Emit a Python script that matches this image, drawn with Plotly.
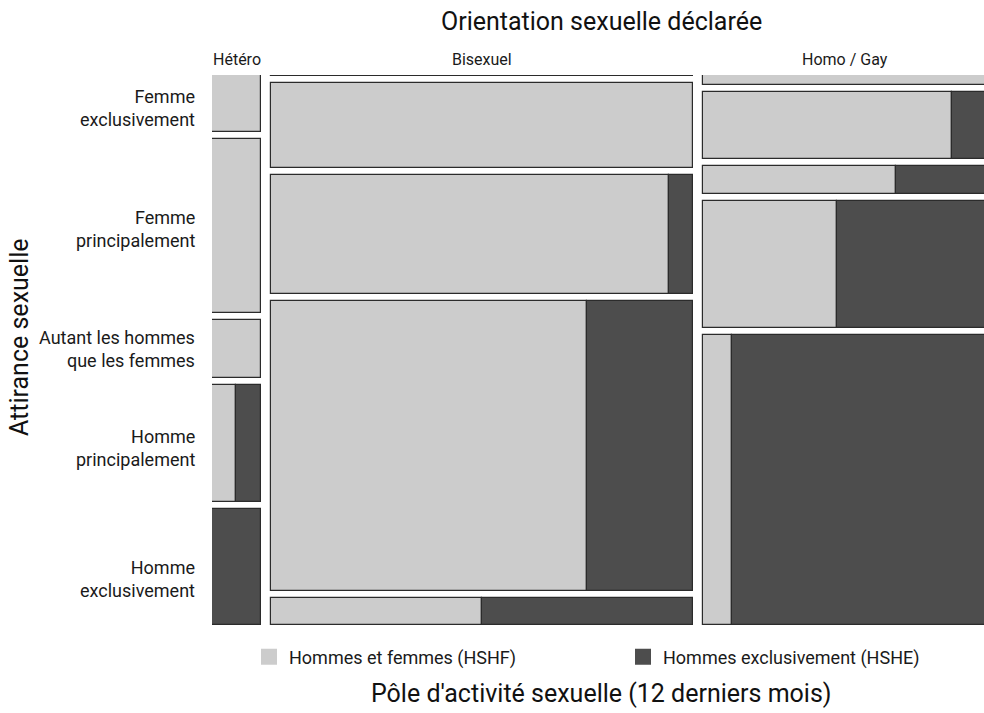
import plotly.graph_objects as go

# ---- data ----
orientations = ["Hétéro", "Bisexuel", "Homo / Gay"]
orientation_share = [6.5, 55.8, 37.7]  # % of respondents per declared orientation

attractions = ["Femme<br>exclusivement", "Femme<br>principalement",
               "Autant les hommes<br>que les femmes", "Homme<br>principalement",
               "Homme<br>exclusivement"]
# share of each attraction level within each orientation (%)
attraction_share = {
    "Hétéro":     [10.9, 33.4, 11.1, 22.3, 22.3],
    "Bisexuel":   [0.2, 16.3, 22.8, 55.8, 5.2],
    "Homo / Gay": [1.9, 12.9, 5.4, 24.2, 55.6],
}
# share of HSHF (men with both men and women) inside each cell (%)
hshf_share = {
    "Hétéro":     [100, 100, 100, 49, 0],
    "Bisexuel":   [100, 100, 94.3, 74.9, 50],
    "Homo / Gay": [100, 87.3, 67.8, 47, 10.2],
}
activity = ["Hommes et femmes (HSHF)", "Hommes exclusivement (HSHE)"]
colors = ["#cccccc", "#4d4d4d"]

# ---- layout geometry of the mosaic (in plot units = px) ----
W_TOTAL, GAP_X = 776.0, 10.0
H_TOTAL, GAP_Y = 550.0, 7.0
X_VIEW = 772.0
ML, MT = 212, 75

cells = {0: dict(x=[], w=[], base=[], h=[]), 1: dict(x=[], w=[], base=[], h=[])}
col_centers = []
x0 = 0.0
avail_w = W_TOTAL - GAP_X * (len(orientations) - 1)
for o, s in zip(orientations, orientation_share):
    cw = avail_w * s / 100.0
    col_centers.append(x0 + cw / 2)
    avail_h = H_TOTAL - GAP_Y * (len(attractions) - 1)
    y0 = 0.0
    for k, rs in enumerate(attraction_share[o]):
        rh = avail_h * rs / sum(attraction_share[o])
        p = hshf_share[o][k] / 100.0
        parts = [(x0, cw * p), (x0 + cw * p, cw * (1 - p))]
        for j, (xs, ww) in enumerate(parts):
            if ww > 0.01:
                cells[j]["x"].append(xs + ww / 2)
                cells[j]["w"].append(ww)
                cells[j]["base"].append(y0)
                cells[j]["h"].append(rh)
        y0 += rh + GAP_Y
    x0 += cw + GAP_X

# y label positions (centres of the Hétéro rows)
lab_y = []
avail_h = H_TOTAL - GAP_Y * (len(attractions) - 1)
y0 = 0.0
for rs in attraction_share["Hétéro"]:
    rh = avail_h * rs / sum(attraction_share["Hétéro"])
    lab_y.append(y0 + rh / 2)
    y0 += rh + GAP_Y
lab_y = [v + d for v, d in zip(lab_y, [5, 3, 0, 5, 12])]


def px(xp):
    return (xp - ML) / X_VIEW


def py(yp):
    return 1 - (yp - MT) / H_TOTAL


fig = go.Figure()
for j in (0, 1):
    fig.add_trace(go.Bar(
        x=cells[j]["x"], width=cells[j]["w"], base=cells[j]["base"], y=cells[j]["h"],
        name=activity[j], showlegend=False,
        marker=dict(color=colors[j], line=dict(color="#2b2b2b", width=1.2)),
        hoverinfo="skip",
    ))
    fig.add_trace(go.Scatter(
        x=[None], y=[None], mode="markers", name=activity[j],
        marker=dict(symbol="square", size=16, color=colors[j], line=dict(width=0)),
    ))

FONT = "Roboto"
ann = []
for c, o in zip(col_centers, orientations):
    ann.append(dict(x=c / X_VIEW, y=1, xref="paper", yref="paper", text=o, showarrow=False,
                    xanchor="center", yanchor="bottom", yshift=4,
                    font=dict(size=16, color="#1a1a1a", family=FONT)))
for yv, t in zip(lab_y, attractions):
    ann.append(dict(x=0, y=1 - yv / H_TOTAL, xref="paper", yref="paper", text=t, showarrow=False,
                    xanchor="right", yanchor="middle", xshift=-15, align="right",
                    font=dict(size=18, color="#1a1a1a", family=FONT)))
ann.append(dict(x=px(601), y=py(21), xref="paper", yref="paper",
                text="Orientation sexuelle déclarée", xanchor="center", yanchor="middle",
                showarrow=False, font=dict(size=25, color="#111", family=FONT)))
ann.append(dict(x=px(601), y=py(693), xref="paper", yref="paper",
                text="Pôle d'activité sexuelle (12 derniers mois)", xanchor="center",
                yanchor="middle", showarrow=False, font=dict(size=25, color="#111", family=FONT)))
ann.append(dict(x=px(19), y=py(337), xref="paper", yref="paper", text="Attirance sexuelle",
                textangle=-90, xanchor="center", yanchor="middle", showarrow=False,
                font=dict(size=25, color="#111", family=FONT)))

fig.update_layout(
    width=984, height=713,
    margin=dict(l=ML, r=0, t=MT, b=88, autoexpand=False),
    paper_bgcolor="white", plot_bgcolor="white",
    barmode="overlay", bargap=0,
    font=dict(family=FONT, color="#1a1a1a"),
    xaxis=dict(range=[0, X_VIEW], visible=False, fixedrange=True),
    yaxis=dict(range=[H_TOTAL, 0], visible=False, fixedrange=True),
    annotations=ann,
    showlegend=True,
    legend=dict(orientation="h", x=px(249), xanchor="left",
                y=py(657), yanchor="middle", entrywidth=329, entrywidthmode="pixels",
                font=dict(size=18, color="#1a1a1a", family=FONT), traceorder="normal",
                itemclick=False, itemdoubleclick=False),
)
fig.write_html("out.html", config={"displayModeBar": False},
               post_script="document.body.style.margin='0';document.body.style.overflow='hidden';")
